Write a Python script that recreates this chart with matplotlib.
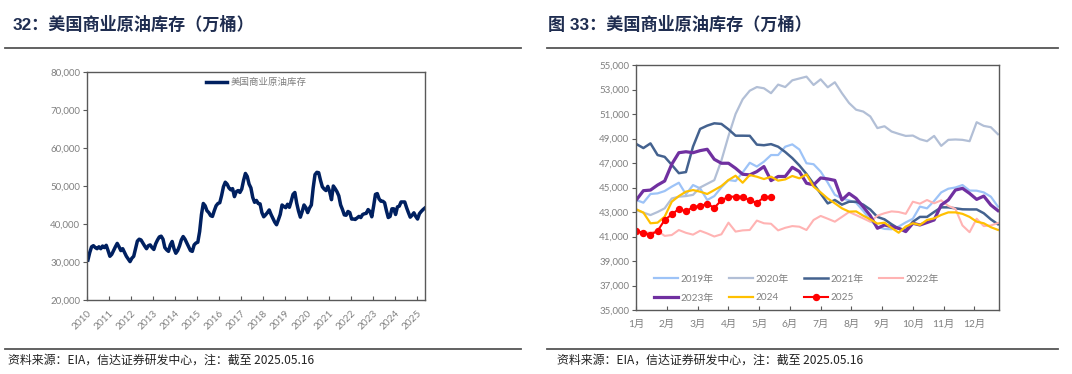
import matplotlib
matplotlib.use("Agg")
import matplotlib.pyplot as plt
import numpy as np
from matplotlib.lines import Line2D
from matplotlib.ticker import FuncFormatter

plt.rcParams['font.family'] = ['Lato', 'Noto Sans CJK SC', 'DejaVu Sans']

# ---------------- data ----------------
# Left chart: US commercial crude stocks (10k bbl), monthly readings 2010-01 .. 2025-05
hist_2010 = [30500, 32500, 34000, 34300, 33800, 33500, 34000, 33500, 34200, 33800, 34400, 33000]
hist_2011 = [31500, 32000, 33000, 34000, 34900, 34000, 33000, 33500, 32500, 31500, 30800, 30100]
hist_2012 = [31000, 31500, 33500, 35500, 36000, 35800, 35000, 34200, 33500, 34300, 34500, 33800]
hist_2013 = [33300, 34800, 35800, 36600, 36800, 36000, 33800, 33200, 32800, 34500, 35400, 33500]
hist_2014 = [32300, 33000, 34200, 35800, 36700, 36000, 35000, 34000, 33000, 32800, 34500, 35000]
hist_2015 = [35200, 38000, 42500, 45400, 44800, 43500, 43000, 42200, 42000, 43500, 44800, 45400]
hist_2016 = [45600, 47500, 49800, 51000, 50500, 49500, 49000, 49300, 47200, 48500, 48800, 48300]
hist_2017 = [49200, 51500, 53300, 52500, 50500, 49500, 47000, 45700, 46200, 45400, 45300, 43000]
hist_2018 = [41900, 42400, 43000, 43700, 42500, 41500, 40500, 39800, 41100, 42500, 45000, 44600]
hist_2019 = [44300, 45200, 44400, 46000, 47800, 48300, 45500, 43400, 41800, 43300, 45000, 44300]
hist_2020 = [43000, 44200, 45000, 49500, 53000, 53600, 53500, 51500, 49800, 49200, 48800, 49900]
hist_2021 = [48500, 46400, 50000, 49300, 48500, 47400, 45000, 43800, 42400, 42300, 43300, 43000]
hist_2022 = [41300, 41300, 41200, 41600, 42000, 41700, 42500, 42700, 42800, 43800, 43300, 41900]
hist_2023 = [44700, 47800, 48000, 46600, 46000, 46000, 45600, 43500, 41700, 42000, 44000, 44000]
hist_2024 = [42500, 44500, 44700, 45800, 45800, 45800, 44300, 43000, 41800, 42300, 42950, 42000]
hist_2025 = [41300, 42700, 43300, 43800, 44200]
hist_years = list(range(2010, 2026))
hist_label = '美国商业原油库存'

# Right chart: weekly seasonal stocks (10k bbl), week index 0..51
s2019 = [43980, 43760, 44470, 44520, 44710, 45070, 45390, 44440, 45200, 44930, 43980, 44300, 45010,
         45610, 45530, 46230, 47020, 46710, 47110, 47650, 47650, 48330, 48520, 48100, 46980, 46900,
         46300, 45400, 44400, 44110, 43950, 43750, 43100, 42300, 41800, 41620, 41590, 41810, 42150,
         42450, 43440, 43300, 43900, 44600, 44900, 45000, 45200, 44750, 44740, 44600, 44250, 43440]
s2020 = [43150, 42950, 42750, 43000, 43300, 44100, 44250, 44300, 44400, 45000, 45300, 45600, 47200,
         49200, 51000, 52200, 52900, 53200, 53100, 52700, 53400, 53200, 53750, 53900, 54050, 53370,
         53830, 53180, 53590, 52700, 51900, 51350, 51200, 50800, 49850, 50000, 49570, 49380, 49210,
         49240, 48940, 48780, 49210, 48400, 48890, 48920, 48890, 48780, 50330, 50030, 49920, 49350]
s2021 = [48550, 48220, 48600, 47650, 47500, 46850, 46170, 46260, 48340, 49780, 50050, 50240, 50190,
         49750, 49230, 49230, 49220, 48500, 48450, 48540, 48330, 47900, 47400, 46800, 46100, 45300,
         44500, 43700, 43980, 43600, 43840, 43840, 43600, 43200, 42600, 42400, 42000, 41650, 41530,
         42200, 42600, 42600, 43000, 43380, 43380, 43300, 43220, 43210, 43210, 42900, 42400, 42000]
s2022 = [41200, 41350, 41300, 41470, 41050, 41120, 41530, 41300, 41150, 41470, 41250, 41000, 41180,
         42130, 41400, 41500, 41530, 42300, 42080, 42040, 41500, 41710, 41850, 41800, 41530, 42350,
         42680, 42450, 42210, 42600, 43000, 42750, 42480, 42200, 42700, 42900, 43050, 43000, 42850,
         43840, 43680, 43980, 43710, 43950, 43500, 43250, 41900, 41350, 42450, 41850, 41900, 42100]
s2023 = [43980, 44740, 44790, 45200, 45530, 46900, 47840, 47920, 47840, 48010, 48120, 47300, 46980,
         46980, 46570, 46080, 46030, 46300, 46710, 45560, 45900, 45900, 46650, 46300, 45350, 45210,
         45780, 45700, 45580, 43980, 44520, 44110, 43430, 42700, 41670, 41940, 41800, 41670, 41400,
         42080, 41940, 42140, 42350, 43570, 43980, 44790, 44930, 44520, 44030, 44300, 43570, 43110]
s2024 = [43220, 42950, 42080, 42130, 42620, 43840, 44300, 44660, 44790, 44660, 44470, 44790, 45120,
         45610, 45960, 45390, 46020, 45880, 45690, 45880, 45560, 45660, 45940, 45750, 46070, 45070,
         44600, 44100, 43710, 43300, 43030, 43050, 42700, 42400, 42050, 42130, 41700, 41310, 41810,
         42080, 41940, 42350, 42480, 42760, 42970, 42970, 42850, 42600, 42210, 42080, 41760, 41540]
s2025 = [41450, 41300, 41150, 41450, 42350, 42800, 43250, 43050, 43400, 43500, 43650, 43350, 43950,
         44250, 44250, 44250, 43950, 43750, 44200, 44250]
season_labels = ['2019年', '2020年', '2021年', '2022年', '2023年', '2024', '2025']
month_labels = ['1月', '2月', '3月', '4月', '5月', '6月', '7月', '8月', '9月', '10月', '11月', '12月']

# ---------------- figure ----------------
W, H = 1072, 374
fig = plt.figure(figsize=(W / 100, H / 100), dpi=100)


def fx(px):
    return px / W


def fy(py):
    return 1 - py / H


tick_color = '#808080'
spine_color = '#595959'
title_color = '#1F2D50'
fmt = FuncFormatter(lambda v, p: f'{int(v):,}')

# titles
fig.text(fx(13), fy(24), '32：美国商业原油库存（万桶）', fontsize=12.3, fontweight='bold',
         color=title_color, va='center', ha='left',
         family=['Liberation Sans', 'Noto Sans CJK SC'])
fig.text(fx(548), fy(24), '图 33：美国商业原油库存（万桶）', fontsize=12.3, fontweight='bold',
         color=title_color, va='center', ha='left',
         family=['Liberation Sans', 'Noto Sans CJK SC'])

# rules
for (x0, x1) in [(5, 521), (547, 1058)]:
    fig.add_artist(Line2D([fx(x0), fx(x1)], [fy(47.5), fy(47.5)], transform=fig.transFigure,
                          color='#555555', lw=1.3))
    fig.add_artist(Line2D([fx(x0), fx(x1)], [fy(349), fy(349)], transform=fig.transFigure,
                          color='#555555', lw=1.3))

# footnotes
note = '资料来源：EIA，信达证券研发中心，注：截至 2025.05.16'
fig.text(fx(8), fy(360), note, fontsize=8.6, color='#222222', va='center', ha='left',
         family=['Noto Sans CJK SC', 'DejaVu Sans'])
fig.text(fx(557), fy(360), note, fontsize=8.6, color='#222222', va='center', ha='left',
         family=['Noto Sans CJK SC', 'DejaVu Sans'])

# ---------------- left chart ----------------
ax1 = fig.add_axes([fx(87), fy(300), fx(425) - fx(87), fy(72) - fy(300)])
hist_all = (hist_2010 + hist_2011 + hist_2012 + hist_2013 + hist_2014 + hist_2015 + hist_2016 +
            hist_2017 + hist_2018 + hist_2019 + hist_2020 + hist_2021 + hist_2022 + hist_2023 +
            hist_2024 + hist_2025)
hist_x = hist_years[0] + (np.arange(len(hist_all)) + 0.5) / 12.0
ax1.plot(hist_x, hist_all, color='#002060', lw=2.5, label=hist_label, solid_joinstyle='round')
ax1.set_xlim(2010, hist_x[-1] + 0.005)
ax1.set_ylim(20000, 80000)
ax1.set_yticks(np.arange(20000, 80001, 10000))
ax1.yaxis.set_major_formatter(fmt)
ax1.set_xticks(hist_years)
ax1.set_xticklabels([str(y) for y in hist_years], rotation=45, ha='right', rotation_mode='anchor')
ax1.tick_params(axis='y', direction='out', length=3, color=spine_color, labelsize=7,
                labelcolor=tick_color, pad=2)
ax1.tick_params(axis='x', direction='in', length=3, color=spine_color, labelsize=7.2,
                labelcolor=tick_color, pad=6)
for s in ax1.spines.values():
    s.set_color(spine_color)
    s.set_linewidth(1.0)
leg1 = ax1.legend(loc='upper center', bbox_to_anchor=(0.5, 1.0), frameon=False, fontsize=6.8,
                  handlelength=2.3, handletextpad=0.3, borderaxespad=0.45, borderpad=0.2)
for t in leg1.get_texts():
    t.set_color(tick_color)

# ---------------- right chart ----------------
ax2 = fig.add_axes([fx(636.3), fy(310), fx(999) - fx(636.3), fy(65) - fy(310)])
series = [s2019, s2020, s2021, s2022, s2023, s2024, s2025]
colors = ['#9DC3F7', '#B2BFD6', '#44628F', '#FFB3B3', '#7030A0', '#FFC000', '#FF0000']
widths = [1.6, 1.6, 1.8, 1.5, 2.3, 1.6, 1.5]
handles = []
for vals, lab, c, lw in zip(series, season_labels, colors, widths):
    wk = np.arange(len(vals))
    if lab == '2025':
        h, = ax2.plot(wk, vals, color=c, lw=lw, marker='o', markersize=4.3, label=lab)
    else:
        h, = ax2.plot(wk, vals, color=c, lw=lw, label=lab)
    handles.append(h)
ax2.set_xlim(0, 51.15)
ax2.set_ylim(35000, 55000)
ax2.set_yticks(np.arange(35000, 55001, 2000))
ax2.yaxis.set_major_formatter(fmt)
ax2.set_xticks(np.arange(12) * 52 / 12)
ax2.set_xticklabels(month_labels)
ax2.tick_params(axis='y', direction='out', length=3, color=spine_color, labelsize=7,
                labelcolor=tick_color, pad=2)
ax2.tick_params(axis='x', direction='in', length=3, color=spine_color, labelsize=7.4,
                labelcolor=tick_color, pad=7)
for s in ax2.spines.values():
    s.set_color(spine_color)
    s.set_linewidth(1.0)
order = [0, 4, 1, 5, 2, 6, 3]
leg2 = ax2.legend([handles[i] for i in order], [season_labels[i] for i in order],
                  loc='lower left', bbox_to_anchor=(0.05, 0.03), ncol=4, frameon=False,
                  fontsize=7.2, handlelength=2.4, handletextpad=0.25, columnspacing=1.5,
                  labelspacing=0.95, borderpad=0, borderaxespad=0)
for t in leg2.get_texts():
    t.set_color(tick_color)

fig.savefig('out.png', dpi=100)
